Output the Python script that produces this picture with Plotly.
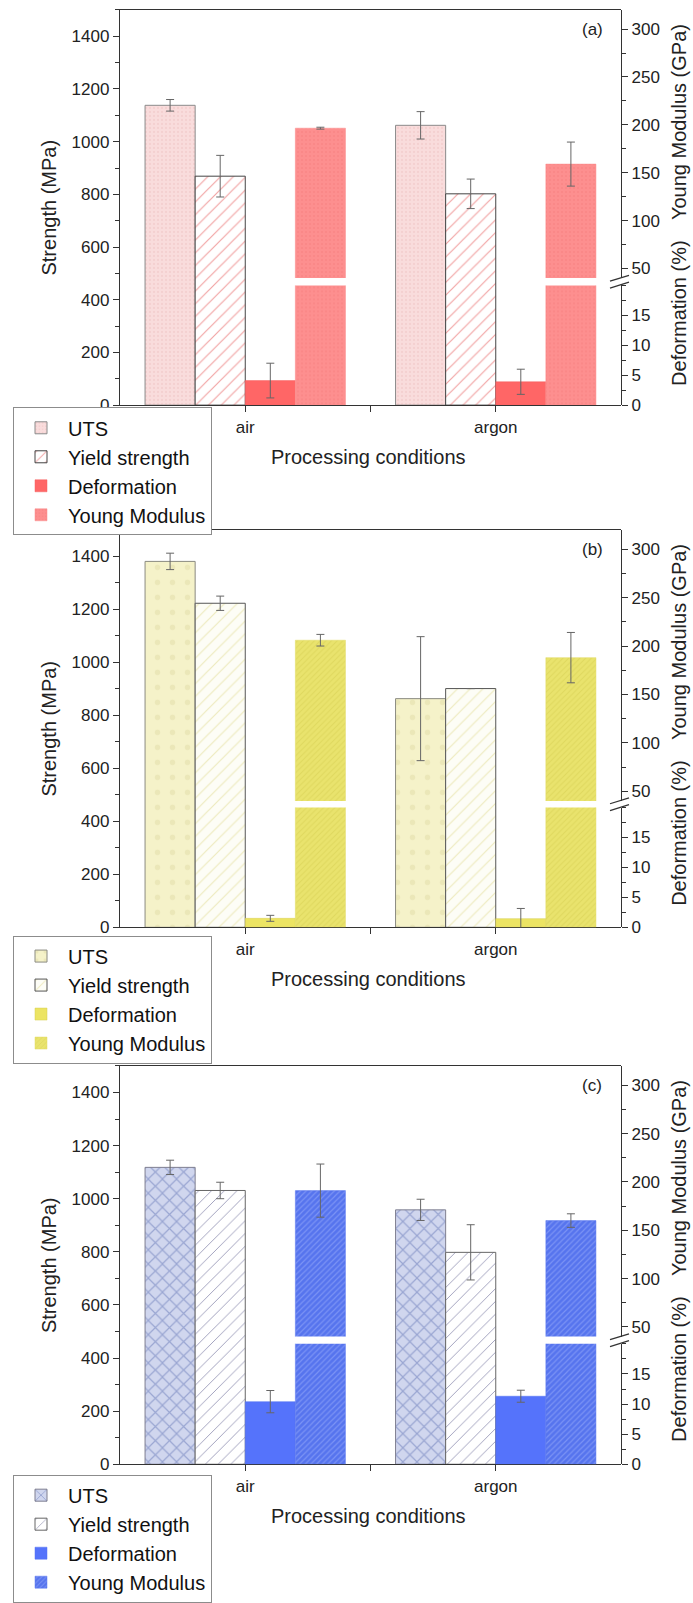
import plotly.graph_objects as go

W, H = 693, 1603
FONT = "Liberation Sans, Arial, sans-serif"

# ---------------- data ----------------
categories = ["air", "argon"]
cat_x = [1, 2]
panel_labels = ["(a)", "(b)", "(c)"]
series_names = ["UTS", "Yield strength", "Deformation", "Young Modulus"]

# panel (a)
uts_a = [1138, 1062]
uts_a_err = [22, 52]
ys_a = [869, 802]
ys_a_err = [79, 56]
def_a = [4.1, 3.9]
def_a_err = [2.9, 2.1]
ym_a = [196.5, 159]
ym_a_err = [1, 23]

# panel (b)
uts_b = [1381, 863]
uts_b_err = [31, 234]
ys_b = [1223, 901]
ys_b_err = [27, 0]
def_b = [1.5, 1.45]
def_b_err = [0.5, 1.7]
ym_b = [206, 188]
ym_b_err = [6, 26]

# panel (c)
uts_c = [1118, 958]
uts_c_err = [27, 40]
ys_c = [1031, 798]
ys_c_err = [31, 104]
def_c = [10.4, 11.3]
def_c_err = [1.85, 1.0]
ym_c = [191, 160]
ym_c_err = [27.5, 7]

strength_ticks = [0, 200, 400, 600, 800, 1000, 1200, 1400]
def_ticks = [0, 5, 10, 15]
ym_ticks = [50, 100, 150, 200, 250, 300]

# ---------------- styles ----------------
styles = [
    dict(  # red
        uts=dict(color="#f9dbdb", pattern=dict(shape=".", fgcolor="#f3cdcd", bgcolor="#f9dcdc", size=4, solidity=0.2, fillmode="replace"),
                 line=dict(color="#8a8a8a", width=1)),
        ys=dict(color="white", pattern=dict(shape="/", fgcolor="#f2a4a4", bgcolor="white", size=9, solidity=0.13, fillmode="replace"),
                line=dict(color="#444444", width=1)),
        de=dict(color="#ff6666", line=dict(color="#f46060", width=0.5)),
        ym=dict(color="#fd8c8c", pattern=dict(shape=".", fgcolor="#fa8686", bgcolor="#fd8f8f", size=4, solidity=0.2, fillmode="replace"),
                line=dict(color="#fb8a8a", width=0.5)),
    ),
    dict(  # yellow
        uts=dict(color="#f4f1c6", pattern=dict(shape=".", fgcolor="#ebe7b8", bgcolor="#f5f2c9", size=15, solidity=0.1, fillmode="replace"),
                 line=dict(color="#8a8a80", width=1)),
        ys=dict(color="white", pattern=dict(shape="/", fgcolor="#eeebbf", bgcolor="#fdfdf6", size=9, solidity=0.13, fillmode="replace"),
                line=dict(color="#555555", width=1)),
        de=dict(color="#ece463", line=dict(color="#d6ce50", width=0.5)),
        ym=dict(color="#e8e26c", pattern=dict(shape="/", fgcolor="#dfd85e", bgcolor="#e9e36d", size=4, solidity=0.25, fillmode="replace"),
                line=dict(color="#e0da64", width=0.5)),
    ),
    dict(  # blue
        uts=dict(color="#c6cee8", pattern=dict(shape="x", fgcolor="#9aa6d2", bgcolor="#d0d6ee", size=10, solidity=0.22, fillmode="replace"),
                 line=dict(color="#7f7f90", width=1)),
        ys=dict(color="white", pattern=dict(shape="/", fgcolor="#9a9ab8", bgcolor="white", size=9, solidity=0.1, fillmode="replace"),
                line=dict(color="#666666", width=1)),
        de=dict(color="#5573fb", line=dict(color="#5070f0", width=0.5)),
        ym=dict(color="#5b78ef", pattern=dict(shape="/", fgcolor="#7b93f5", bgcolor="#5674ee", size=4, solidity=0.3, fillmode="replace"),
                line=dict(color="#5a78ee", width=0.5)),
    ),
]

panel_data = [
    (uts_a, uts_a_err, ys_a, ys_a_err, def_a, def_a_err, ym_a, ym_a_err),
    (uts_b, uts_b_err, ys_b, ys_b_err, def_b, def_b_err, ym_b, ym_b_err),
    (uts_c, uts_c_err, ys_c, ys_c_err, def_c, def_c_err, ym_c, ym_c_err),
]

# ---------------- layout geometry (pixels) ----------------
PX_LEFT, PX_RIGHT = 120, 621
panels_px = [
    dict(top=10.1, bottom=411.8, gap_top=282.6, gap_bot=290.1, legend_top=414),
    dict(top=538.6, bottom=942.6, gap_top=814.1, gap_bot=820.9, legend_top=951),
    dict(top=1083.5, bottom=1488.4, gap_top=1358.6, gap_bot=1366.0, legend_top=1499),
]
STRENGTH_RANGE = [0, 1500]
DEF_RANGE = [0, 20]
YM_RANGE = [40, 320]
XR = [0.5, 2.5]
BAR_W = 0.2
offsets = [-0.4, -0.2, 0.0, 0.2]


def fy(p):
    return 1 - p / H


def fx(p):
    return p / W


fig = go.Figure()
layout = dict(width=W, height=H, margin=dict(l=0, r=0, t=0, b=0),
              paper_bgcolor="white", plot_bgcolor="rgba(0,0,0,0)",
              barmode="overlay", font=dict(family=FONT, color="#222222"),
              showlegend=True)
annotations = []
shapes = []
err_style = dict(type="data", color="#666666", thickness=1, width=4)

axis_common = dict(showgrid=False, zeroline=False, showline=True, linecolor="#333333", linewidth=1.3,
                   ticks="outside", tickcolor="#333333", tickwidth=1.2, ticklen=6,
                   tickfont=dict(size=17, family=FONT, color="#222222"))

for i, (pp, st, dat) in enumerate(zip(panels_px, styles, panel_data)):
    uts, uts_e, ys, ys_e, de, de_e, ym, ym_e = dat
    xn = "x" if i == 0 else f"x{i+1}"
    xkey = "xaxis" if i == 0 else f"xaxis{i+1}"
    xtop_key = f"xaxis{i+4}"
    y_s, y_d, y_m = 3 * i + 1, 3 * i + 2, 3 * i + 3
    yn_s = "y" if y_s == 1 else f"y{y_s}"
    yk_s = "yaxis" if y_s == 1 else f"yaxis{y_s}"
    yn_d, yk_d = f"y{y_d}", f"yaxis{y_d}"
    yn_m, yk_m = f"y{y_m}", f"yaxis{y_m}"
    leg = "legend" if i == 0 else f"legend{i+1}"

    # traces
    fig.add_trace(go.Bar(x=cat_x, y=uts, name=series_names[0], xaxis=xn, yaxis=yn_s,
                         width=BAR_W, offset=offsets[0],
                         marker=dict(color=st["uts"]["color"], pattern=st["uts"]["pattern"], line=st["uts"]["line"]),
                         error_y=dict(array=uts_e, **err_style), legend=leg))
    fig.add_trace(go.Bar(x=cat_x, y=ys, name=series_names[1], xaxis=xn, yaxis=yn_s,
                         width=BAR_W, offset=offsets[1],
                         marker=dict(color=st["ys"]["color"], pattern=st["ys"]["pattern"], line=st["ys"]["line"]),
                         error_y=dict(array=ys_e, **err_style), legend=leg))
    fig.add_trace(go.Bar(x=cat_x, y=de, name=series_names[2], xaxis=xn, yaxis=yn_d,
                         width=BAR_W, offset=offsets[2],
                         marker=dict(color=st["de"]["color"], line=st["de"]["line"]),
                         error_y=dict(array=de_e, **err_style), legend=leg))
    # Young modulus: upper (broken) axis part carries the value + error
    fig.add_trace(go.Bar(x=cat_x, y=ym, name=series_names[3], xaxis=xn, yaxis=yn_m,
                         width=BAR_W, offset=offsets[3],
                         marker=dict(color=st["ym"]["color"], pattern=st["ym"]["pattern"], line=st["ym"]["line"]),
                         error_y=dict(array=ym_e, **err_style), legend=leg))
    # lower part of the same bars, below the axis break (clipped by the lower axis)
    fig.add_trace(go.Bar(x=cat_x, y=ym, name=series_names[3], xaxis=xn, yaxis=yn_d,
                         width=BAR_W, offset=offsets[3], showlegend=False,
                         marker=dict(color=st["ym"]["color"], pattern=st["ym"]["pattern"], line=st["ym"]["line"]),
                         legend=leg))

    xdom = [fx(PX_LEFT), fx(PX_RIGHT)]
    layout[xkey] = dict(axis_common, domain=xdom, anchor=yn_s, range=XR,
                        tickvals=[1, 1.5, 2], ticktext=[categories[0], "", categories[1]],
                        tickfont=dict(size=17, family=FONT, color="#222222"),
                        mirror=True)
    layout[xtop_key] = dict(overlaying=xn, side="top", anchor=yn_s, range=XR, showgrid=False,
                            zeroline=False, showline=False, ticks="inside", tickvals=[1, 1.5, 2],
                            showticklabels=False, ticklen=6, tickwidth=1.2, tickcolor="#333333")
    layout[yk_s] = dict(axis_common, domain=[fy(pp["bottom"]), fy(pp["top"])], anchor=xn,
                        range=STRENGTH_RANGE, tickvals=strength_ticks,
                        minor=dict(dtick=100, ticks="outside", ticklen=4, tickcolor="#333333", tickwidth=1))
    layout[yk_d] = dict(axis_common, domain=[fy(pp["bottom"]), fy(pp["gap_bot"])], anchor=xn, side="right",
                        range=DEF_RANGE, tickvals=def_ticks,
                        minor=dict(dtick=2.5, ticks="outside", ticklen=4, tickcolor="#333333", tickwidth=1))
    layout[yk_m] = dict(axis_common, domain=[fy(pp["gap_top"]), fy(pp["top"])], anchor=xn, side="right",
                        range=YM_RANGE, tickvals=ym_ticks,
                        minor=dict(tickvals=[75, 125, 175, 225, 275], ticks="outside", ticklen=4,
                                   tickcolor="#333333", tickwidth=1))

    layout[leg] = dict(x=fx(13), y=fy(pp["legend_top"]), xanchor="left", yanchor="top",
                       xref="paper", yref="paper",
                       bgcolor="white", bordercolor="#8c8c8c", borderwidth=1,
                       font=dict(size=20, family=FONT, color="#111111"),
                       itemwidth=44, tracegroupgap=0, traceorder="normal")

    # axis titles / labels
    annotations += [
        dict(text="Strength (MPa)", x=fx(49), y=fy((pp["top"] + pp["bottom"]) / 2), xref="paper", yref="paper",
             textangle=-90, showarrow=False, font=dict(size=20, family=FONT), xanchor="center", yanchor="middle"),
        dict(text="Young Modulus (GPa)", x=fx(679), y=fy(pp["top"] + 114), xref="paper", yref="paper",
             textangle=-90, showarrow=False, font=dict(size=20, family=FONT), xanchor="center", yanchor="middle"),
        dict(text="Deformation (%)", x=fx(679), y=fy(pp["top"] + 308), xref="paper", yref="paper",
             textangle=-90, showarrow=False, font=dict(size=20, family=FONT), xanchor="center", yanchor="middle"),
        dict(text="Processing conditions", x=fx(369), y=fy(pp["bottom"] + 53), xref="paper", yref="paper",
             showarrow=False, font=dict(size=20, family=FONT), xanchor="center", yanchor="middle"),
        dict(text=panel_labels[i], x=fx(592), y=fy(pp["top"] + 20), xref="paper", yref="paper",
             showarrow=False, font=dict(size=17, family=FONT), xanchor="center", yanchor="middle"),
    ]
    # break marks on the right axis
    c = (pp["gap_top"] + pp["gap_bot"]) / 2
    for dy in (-3.5, 3.5):
        shapes.append(dict(type="line", xref="paper", yref="paper",
                           x0=fx(PX_RIGHT - 11), y0=fy(c + dy + 3), x1=fx(PX_RIGHT + 8), y1=fy(c + dy - 3),
                           line=dict(color="#333333", width=1.3)))

layout["annotations"] = annotations
layout["shapes"] = shapes
fig.update_layout(**layout)
fig.write_html("out.html")
